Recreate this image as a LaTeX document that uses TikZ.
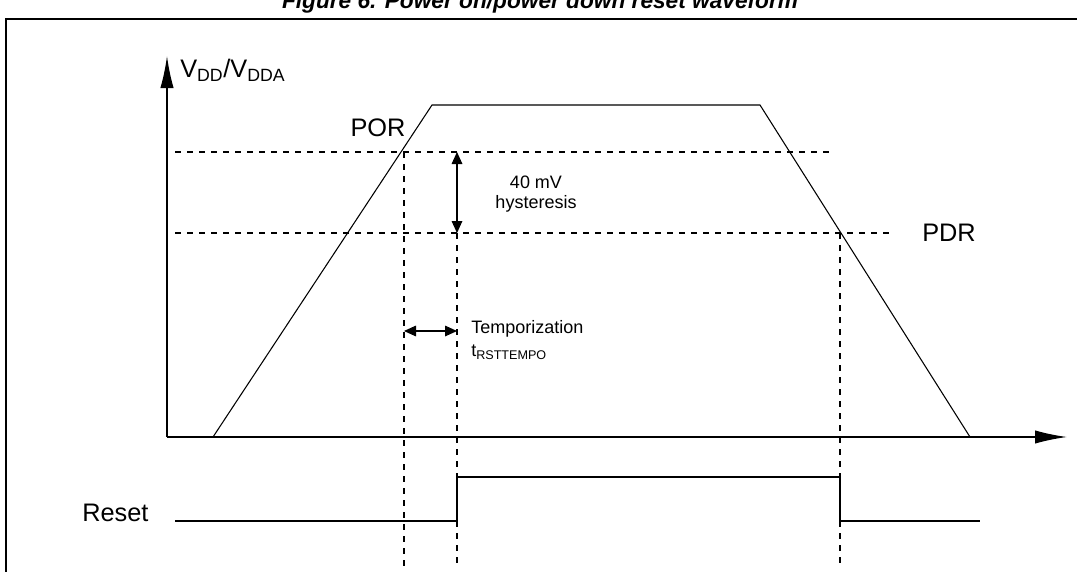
\documentclass[tikz,border=0pt]{standalone}
\usepackage{fontspec}
\setmainfont{Liberation Sans}
\usetikzlibrary{arrows.meta}
\begin{document}
\begin{tikzpicture}[x=0.75pt,y=-0.75pt,
  dsh/.style={dash pattern=on 4.5pt off 4.5pt,line width=0.9pt},
  big/.style={font=\fontsize{19}{21}\selectfont,inner sep=0pt},
  small/.style={font=\fontsize{13.5}{15}\selectfont,inner sep=0pt,align=center},
  ax/.style={line width=1.2pt,-{Latex[length=24pt,width=10pt]}},
  dbl/.style={line width=0.8pt,{Triangle[length=9pt,width=8pt]}-{Triangle[length=9pt,width=8pt]}}]
\useasboundingbox (0,0) rectangle (1077,571);
\node[font=\bfseries\itshape\fontsize{17}{19}\selectfont,anchor=base] (title) at (540,8) {Figure 6. Power on/power down reset waveform};
\draw[line width=1.4pt] (6,580) -- (6,19) -- (1090,19);
% axes
\coordinate (o) at (167,437);
\coordinate (yt) at (167,56);
\coordinate (xt) at (1067,437);
\draw[ax] (o) -- (yt);
\draw[ax] (o) -- (xt);
\node[big,anchor=west] (vdd) at (180,70) {V\textsubscript{DD}/V\textsubscript{DDA}};
% waveform
\coordinate (a) at (213,437); \coordinate (b) at (432,105);
\coordinate (c) at (760,105); \coordinate (d) at (970,437);
\draw[line width=0.8pt] (a) -- (b) -- (c) -- (d);
% thresholds
\coordinate (p1) at (175,152); \coordinate (p2) at (835,152);
\coordinate (q1) at (175,233); \coordinate (q2) at (895,233);
\draw[dsh] (p1) -- (p2);
\draw[dsh] (q1) -- (q2);
\node[big] (por) at (378,128) {POR};
\node[big,anchor=west] (pdr) at (922,233) {PDR};
% verticals
\coordinate (v1t) at (404,152); \coordinate (v1b) at (404,566);
\coordinate (v2t) at (457,233); \coordinate (v2b) at (457,566);
\coordinate (v3t) at (840,233); \coordinate (v3b) at (840,566);
\draw[dsh] (v1t) -- (v1b);
\draw[dsh] (v2t) -- (v2b);
\draw[dsh] (v3t) -- (v3b);
% hysteresis
\coordinate (h1) at (457,152); \coordinate (h2) at (457,233);
\draw[dbl] (h1) -- (h2);
\node[small] (hy) at (536,194) {40 mV\\hysteresis};
% temporization
\coordinate (t1) at (404,331); \coordinate (t2) at (457,331);
\draw[dbl] (t1) -- (t2);
\node[small,anchor=west] (tmp) at (471,329) {Temporization};
\node[small,anchor=west] (trst) at (471,352) {t\textsubscript{RSTTEMPO}};
% reset
\node[big,anchor=west] (rst) at (82,513) {Reset};
\coordinate (r0) at (175,521); \coordinate (r1) at (457,521); \coordinate (r2) at (457,477);
\coordinate (r3) at (840,477); \coordinate (r4) at (840,521); \coordinate (r5) at (980,521);
\draw[line width=1.5pt] (r0) -- (r1) -- (r2) -- (r3) -- (r4) -- (r5);
\end{tikzpicture}
\end{document}
